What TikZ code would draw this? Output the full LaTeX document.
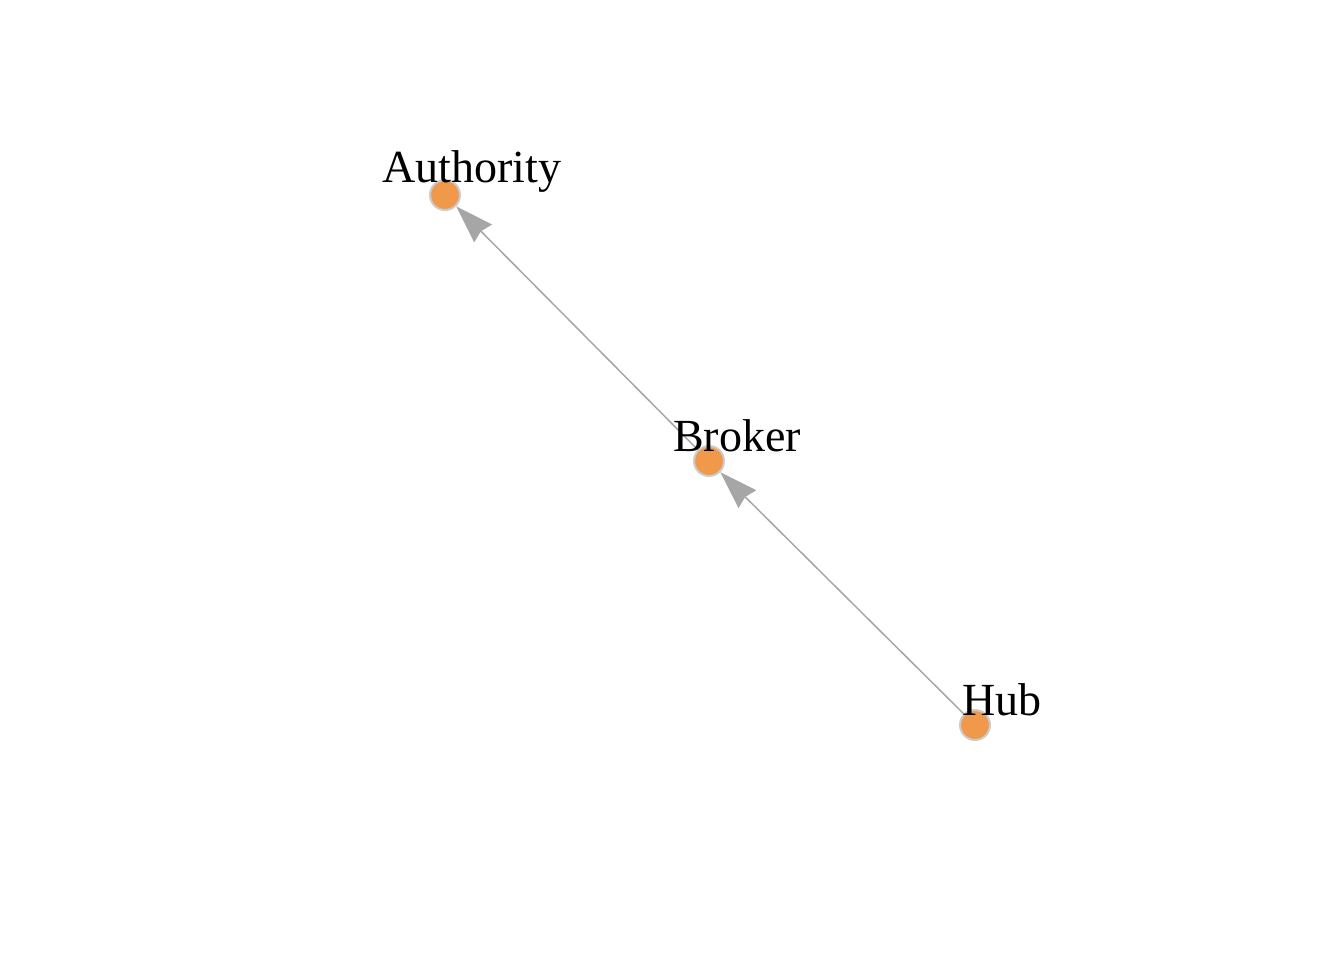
\documentclass[tikz,border=0pt]{standalone}
\usepackage{fontspec}
\setmainfont{Liberation Serif}
\usetikzlibrary{arrows.meta}

\definecolor{vtxfill}{HTML}{F0994A}
\definecolor{vtxline}{HTML}{CCCCCC}
\definecolor{edgegray}{HTML}{A6A6A6}

\begin{document}
\begin{tikzpicture}[x=0.5pt, y=-0.5pt,
    vertex/.style={circle, draw=vtxline, line width=1pt, fill=vtxfill, minimum size=15pt, inner sep=0pt},
    vlabel/.style={anchor=base, inner sep=0pt, font=\fontsize{23}{27}\selectfont},
    link/.style={draw=edgegray, line width=0.75pt, -{Stealth[length=19pt, width=12.5pt, inset=1.5pt]}}]
\useasboundingbox (0,0) rectangle (1344,960);

% vertices
\node[vertex] (authority) at (445,195) {};
\node[vertex] (broker) at (709,461) {};
\node[vertex] (hub) at (975,725) {};

% edges
\draw[link] (hub) -- (broker);
\draw[link] (broker) -- (authority);

% labels
\node[vlabel] (authoritylbl) at (472,182) {Authority};
\node[vlabel] (brokerlbl) at (737,451) {Broker};
\node[vlabel] (hublbl) at (1002,715) {Hub};

\end{tikzpicture}
\end{document}
